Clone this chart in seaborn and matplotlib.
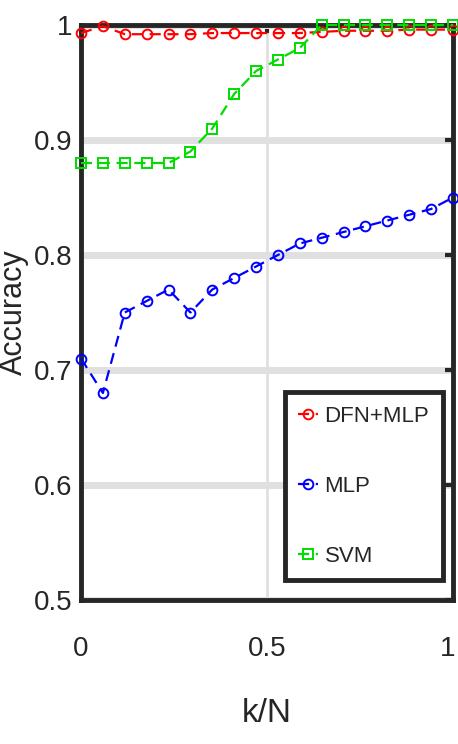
import numpy as np
import pandas as pd
import matplotlib
matplotlib.use("Agg")
import matplotlib.pyplot as plt
import matplotlib.transforms as mtransforms
import seaborn as sns

# ---- data ----
k_over_n = np.linspace(0, 1, 18)
dfn_mlp = [0.993, 0.999, 0.992, 0.992, 0.992, 0.992, 0.993, 0.993, 0.993,
           0.993, 0.993, 0.994, 0.995, 0.995, 0.995, 0.996, 0.996, 0.996]
mlp = [0.71, 0.68, 0.75, 0.76, 0.77, 0.75, 0.77, 0.78, 0.79,
       0.80, 0.81, 0.815, 0.82, 0.825, 0.83, 0.835, 0.84, 0.85]
svm = [0.88, 0.88, 0.88, 0.88, 0.88, 0.89, 0.91, 0.94, 0.96,
       0.97, 0.98, 1.0, 1.0, 1.0, 1.0, 1.0, 1.0, 1.0]
series_names = ["DFN+MLP", "MLP", "SVM"]
x_ticks = [0, 0.5, 1]
x_tick_labels = ["0", "0.5", "1"]
y_ticks = [0.5, 0.6, 0.7, 0.8, 0.9, 1.0]
y_tick_labels = ["0.5", "0.6", "0.7", "0.8", "0.9", "1"]

sns.set_style("white")
plt.rcParams['font.family'] = ['Liberation Sans', 'DejaVu Sans']

fig = plt.figure(figsize=(4.58, 7.44), dpi=100)
ax = fig.add_axes([81/458, 1-600/744, (453-81)/458, (600-25)/744])

styles = [
    (dfn_mlp, "#ff0000", "o", 7),
    (mlp, "#0000ff", "o", 7),
    (svm, "#00dd00", "s", 6.5),
]
for name, (vals, col, mk, ms) in zip(series_names, styles):
    sns.lineplot(x=k_over_n, y=vals, ax=ax, color=col, marker=mk,
                 linestyle=(0, (5, 3)), linewidth=1.6, markersize=ms,
                 markerfacecolor="none", markeredgecolor=col,
                 markeredgewidth=1.4, label=name, clip_on=False, zorder=5)

ax.set_xlim(0, 1)
ax.set_ylim(0.5, 1.0)
ax.set_xticks(x_ticks)
ax.set_xticklabels(x_tick_labels)
ax.set_yticks(y_ticks)
ax.set_yticklabels(y_tick_labels)

ax.grid(axis="y", color="#e0e0e0", linewidth=5)
ax.grid(axis="x", color="#e0e0e0", linewidth=2)
ax.set_axisbelow(True)

for sp in ax.spines.values():
    sp.set_visible(True)
    sp.set_color("#262626")
    sp.set_linewidth(3.5)
    sp.set_zorder(4)

ax.tick_params(axis="both", direction="in", length=6, width=3, color="#262626",
               top=True, right=True, labelsize=20, labelcolor="#262626")
ax.tick_params(axis="x", pad=26)
ax.tick_params(axis="y", pad=6)

# nudge the last x tick label so it stays inside the figure
last = ax.get_xticklabels()[-1]
last.set_transform(last.get_transform() +
                   mtransforms.ScaledTranslation(-4/72, 0, fig.dpi_scale_trans))

ax.set_xlabel("k/N", fontsize=24, color="#262626", labelpad=26)
ax.set_ylabel("Accuracy", fontsize=22, color="#262626", labelpad=4)

leg = ax.legend(loc="lower right", bbox_to_anchor=(0.972, 0.035),
                fontsize=16, handlelength=0.9, handletextpad=0.3,
                labelspacing=2.2, borderpad=0.6, fancybox=False,
                framealpha=1, edgecolor="#262626", borderaxespad=0)
leg.get_frame().set_linewidth(3.5)
leg.set_zorder(10)

fig.savefig("out.png", dpi=100)
